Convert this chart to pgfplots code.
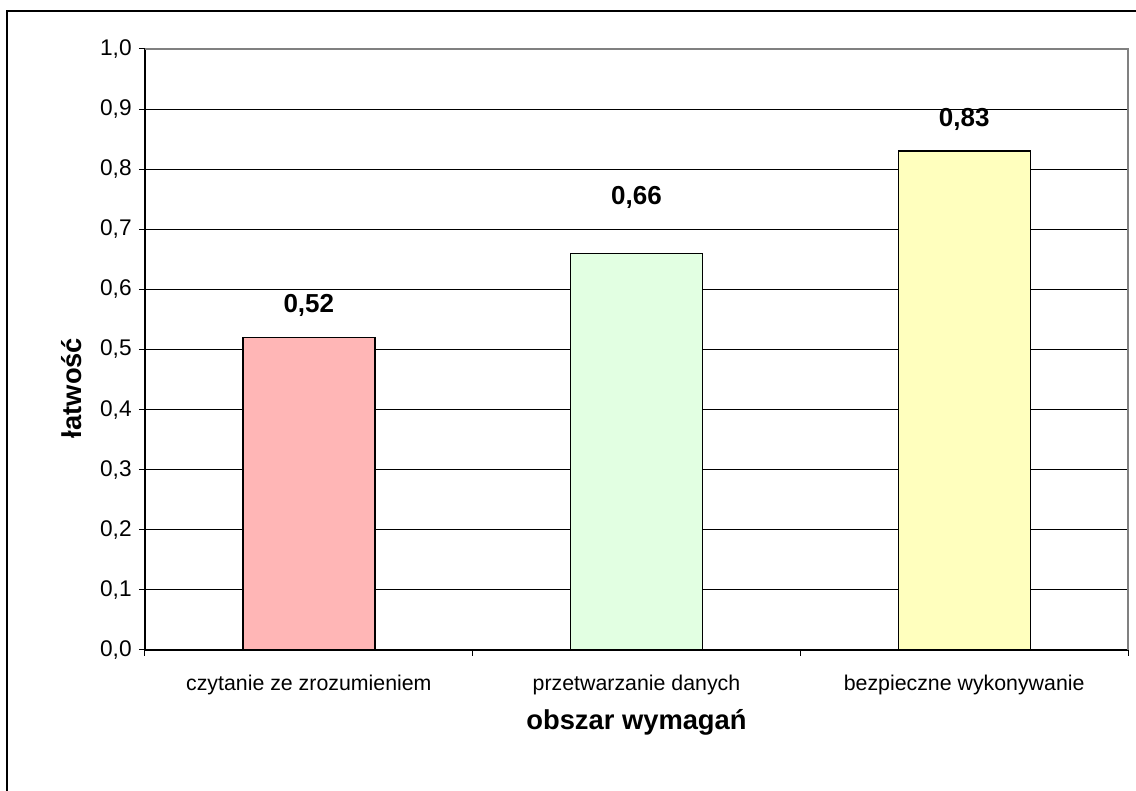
\documentclass[border=0pt]{standalone}
\usepackage{pgfplots}
\pgfplotsset{compat=1.18}
\usepackage{fontspec}
\setmainfont{Liberation Sans}
\definecolor{barpink}{RGB}{255,182,182}
\definecolor{bargreen}{RGB}{226,255,226}
\definecolor{baryellow}{RGB}{255,255,190}
\definecolor{framegray}{RGB}{128,128,128}
\begin{document}
\begin{tikzpicture}[x=0.75pt,y=0.75pt]
\useasboundingbox (0,0) rectangle (1136,791);
\draw[black, line width=1.2pt] (7,-20) -- (7,780) -- (1160,780);
\begin{axis}[
  at={(108.75pt,105.75pt)}, anchor=south west,
  scale only axis, width=737.25pt, height=450.75pt,
  xmin=-0.5, xmax=2.5, ymin=0, ymax=1,
  axis x line*=bottom, axis y line*=left,
  axis line style={-, black, line width=0.9pt},
  /pgf/number format/assume math mode=true,
  ytick={0,0.1,0.2,0.3,0.4,0.5,0.6,0.7,0.8,0.9,1.0},
  yticklabels={{0,0},{0,1},{0,2},{0,3},{0,4},{0,5},{0,6},{0,7},{0,8},{0,9},{1,0}},
  ymajorgrids, major grid style={black, line width=0.75pt},
  tick align=outside, major tick length=4.5pt,
  tick style={black, line width=0.75pt},
  xtick={-0.5,0.5,1.5,2.5}, xticklabels={},
  extra x ticks={0,1,2},
  extra x tick labels={czytanie ze zrozumieniem, przetwarzanie danych, bezpieczne wykonywanie},
  extra x tick style={major tick length=0pt, grid=none, xticklabel style={yshift=-15pt}},
  tick label style={font=\fontsize{16}{19}\selectfont},
  yticklabel style={font=\fontsize{17}{20}\selectfont, xshift=-2pt},
  xlabel={obszar wymagań}, ylabel={łatwość},
  xlabel style={at={(axis description cs:0.5,-0.1198)}, anchor=center, font=\fontsize{20.5}{24}\selectfont\bfseries},
  ylabel style={at={(axis description cs:-0.0746,0.436)}, anchor=center, font=\fontsize{20.5}{24}\selectfont\bfseries},
  ybar, bar width=99pt, bar shift=0pt,
  nodes near coords,
  nodes near coords style={font=\fontsize{19.5}{23}\selectfont\bfseries, anchor=center,
    /pgf/number format/fixed, /pgf/number format/fixed zerofill, /pgf/number format/precision=2, /pgf/number format/use comma, /pgf/number format/assume math mode=true},
  after end axis/.code={
    \draw[framegray, line width=1.5pt] (rel axis cs:0,1) -- (rel axis cs:1,1) -- (rel axis cs:1,0);
  },
]
\addplot[fill=barpink, draw=black, line width=1pt, nodes near coords style={yshift=24pt}] coordinates {(0,0.52)};
\addplot[fill=bargreen, draw=black, line width=1pt, nodes near coords style={yshift=42pt}] coordinates {(1,0.66)};
\addplot[fill=baryellow, draw=black, line width=1pt, nodes near coords style={yshift=23.5pt}] coordinates {(2,0.83)};
\end{axis}
\end{tikzpicture}
\end{document}
